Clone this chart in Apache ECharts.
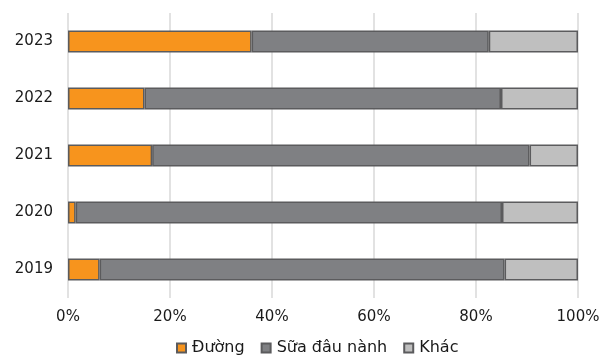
<!DOCTYPE html>
<html>
<head>
<meta charset="utf-8">
<script src="https://cdn.jsdelivr.net/npm/echarts@6/dist/echarts.min.js"></script>
<style>
  html, body { margin: 0; padding: 0; background: #fff; }
  #chart { width: 613px; height: 356px; }
</style>
</head>
<body>
<div id="chart"></div>
<script>
// Share of each segment by year (%)
const years = ['2019', '2020', '2021', '2022', '2023'];
const duong = [6.2, 1.5, 16.5, 15.0, 36.0];
const suaDauNanh = [79.4, 83.6, 74.0, 69.9, 46.5];
const khac = [14.4, 14.9, 9.5, 15.1, 17.5];
const xTicks = [0, 20, 40, 60, 80, 100];

const font = 'DejaVu Sans, Verdana, sans-serif';
const border = { borderColor: '#5b5b5d', borderWidth: 1.5 };

function series(name, data, color) {
  return {
    name: name,
    type: 'bar',
    stack: 'total',
    data: data,
    barWidth: 22,
    itemStyle: Object.assign({ color: color }, border)
  };
}

const chart = echarts.init(document.getElementById('chart'));
chart.setOption({
  animation: false,
  grid: { left: 68, right: 35, top: 13, bottom: 58 },
  xAxis: {
    type: 'value',
    min: xTicks[0],
    max: xTicks[xTicks.length - 1],
    interval: 20,
    axisLine: { show: false },
    axisTick: { show: false },
    splitLine: { lineStyle: { color: '#d9d9d9', width: 1.5 } },
    axisLabel: {
      formatter: v => v + '%',
      color: '#1a1a1a',
      fontFamily: font,
      fontSize: 15,
      margin: 12
    }
  },
  yAxis: {
    type: 'category',
    data: years,
    axisLine: { show: false },
    axisTick: { show: false },
    axisLabel: {
      color: '#1a1a1a',
      fontFamily: font,
      fontSize: 15,
      margin: 15
    }
  },
  legend: {
    top: 340,
    left: 176,
    padding: 0,
    itemGap: 16,
    itemWidth: 9,
    itemHeight: 9,
    icon: 'rect',
    textStyle: { color: '#1a1a1a', fontFamily: font, fontSize: 16, lineHeight: 16, padding: [0, 0, 0, 1] },
    data: ['Đường', 'Sữa đâu nành', 'Khác']
  },
  series: [
    series('Đường', duong, '#f7941d'),
    series('Sữa đâu nành', suaDauNanh, '#7f8083'),
    series('Khác', khac, '#bfbfbf')
  ]
});
</script>
</body>
</html>
